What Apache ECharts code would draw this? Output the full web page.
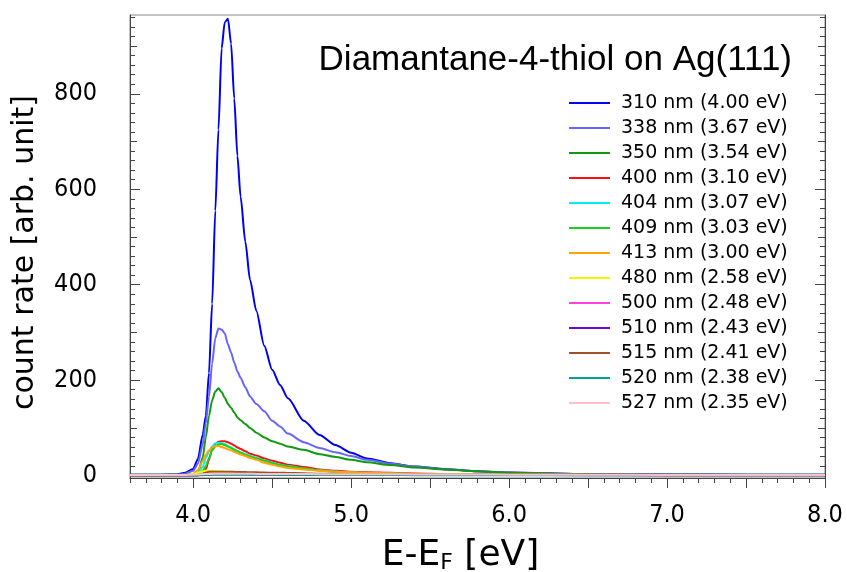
<!DOCTYPE html>
<html><head><meta charset="utf-8">
<script src="https://cdn.jsdelivr.net/npm/echarts@6/dist/echarts.min.js"></script>
<style>html,body{margin:0;padding:0;background:#fff}#c{width:847px;height:572px}</style>
</head><body><div id="c"></div>
<script>
// Energy grid E-EF [eV]
const xs = [3.60,3.80,3.90,3.95, 4.00,4.03,4.06,4.08, 4.10,4.12,4.14,4.16,4.18, 4.20,4.22,4.24,4.26,4.28, 4.30,4.33,4.36,4.40, 4.45,4.50,4.55,4.60, 4.70,4.80,4.90,5.00, 5.10,5.25,5.40,5.60, 5.80,6.00,6.50,7.00, 7.50,8.00];
const s310 = [2,2,2.5,6, 14,35,85,125, 215,360,555,725,895, 950,957,905,790,670, 585,490,410,345, 272,222,190,162, 115,85,64,48, 36,26,19,13.5, 9,6.5,3,2.5, 2,2];
const s338 = [2,2,2,4, 10,25,65,110, 165,235,288,308,306, 298,275,258,237,218, 205,185,166,150, 135,115,103,88, 70,58,49,41, 33,25,19,13, 9,6,3,2.5, 2,2];
const s350 = [2,2,2,2, 3,4,38,80, 125,158,176,183,175, 163,150,142,132,122, 116,108,100,90, 80,72,67,61, 54,45,39,33, 28,22,17,13, 9,6,3,2, 2,2];
const s400 = [1,1,1,1, 1,1,3,14, 33,55,66,71,72, 72,70,67,63,59, 56,51,46,42, 36,31,27,23, 18,13,10,8, 7,6,4.5,3.5, 3,2.5,2,1.5, 1.5,1.5];
const s404 = [1,1,1,1, 2,6,18,38, 50,61,68,69,68, 66,62,59,55,52, 49,45,41,37, 32,27,23,20, 15,11,8.5,7, 5.5,4.5,3.5,3, 2.5,2,1.5,1.5, 1.5,1.5];
const s409 = [1,1,1,1, 1,3,10,20, 37,53,61,65,66, 64,61,58,54,51, 48,44,40,36, 31,26,22,19, 15,11,8,6.5, 5.5,4.5,3.5,3, 2.5,2,1.5,1.5, 1.5,1.5];
const s413 = [1,1,1,1, 4,12,30,44, 53,59,62,62,60, 58,55,53,50,47, 44,41,37,33, 27,23,19,16, 13,10,8,7, 6,5,4,3, 2.5,2,1.5,1.5, 1.5,1.5];
const s480 = [1,1,1,1, 3,6,9,10, 10,10,9.5,9,9, 8.5,8,8,7.5,7.5, 7,6.5,6,6, 5.5,5,4.5,4, 3.5,3,3,2.5, 2.5,2,2,2, 1.5,1.5,1.5,1, 1,1];
const s500 = [1,1,1,1, 1,1.5,2.5,3, 3.5,3.5,3.5,3.5,3.5, 3.5,3.5,3.5,3.5,3.5, 3.5,3.5,3,3, 3,3,3,3, 2.5,2.5,2.5,2, 2,2,2,1.5, 1.5,1.5,1.5,1, 1,1];
const s510 = [1,1,1,1, 1,1,1.5,2, 2.5,2.5,3,3,3, 3,3,3,3,3, 3,3,2.5,2.5, 2.5,2.5,2.5,2.5, 2,2,2,2, 2,1.5,1.5,1.5, 1.5,1.5,1,1, 1,1];
const s515 = [1,1,1,1, 1,1,3,6, 8,8,8,8,8, 8,8,8,8,7.5, 7.5,7.5,7,7, 6.5,6,6,5.5, 5,4,3.5,3, 3,2.5,2.5,2, 2,2,1.5,1, 1,1];
const s520 = [1,1,1,1, 1,1,1,1.5, 1.5,2,2,2,2, 2,2,2,2,2, 2,2,2,2, 2,2,1.5,1.5, 1.5,1.5,1.5,1.5, 1.5,1.5,1,1, 1,1,1,1, 1,1];
const s527 = [1.5,1.5,1.5,1.5, 2,2.5,3,3.5, 3.5,3.5,4,4,4, 4,4,4,4,4, 4,4,4,3.5, 3.5,3.5,3.5,3.5, 3.5,3,3,3, 3,3,2.5,2.5, 2.5,2,2,1.5, 1.5,1.5];

const seriesNames = ['310 nm (4.00 eV)','338 nm (3.67 eV)','350 nm (3.54 eV)','400 nm (3.10 eV)','404 nm (3.07 eV)','409 nm (3.03 eV)','413 nm (3.00 eV)','480 nm (2.58 eV)','500 nm (2.48 eV)','510 nm (2.43 eV)','515 nm (2.41 eV)','520 nm (2.38 eV)','527 nm (2.35 eV)'];
const seriesValues = [s310,s338,s350,s400,s404,s409,s413,s480,s500,s510,s515,s520,s527];
const seriesColors = ['#0000f0','#6666ff','#109a10','#ff1010','#00f0f0','#22cc22','#ffa500','#f5f500','#ff40e0','#6a0acc','#a0522d','#00a0a0','#ffc0cb'];

const xLabels = [4,5,6,7,8];
const xMajorTicks = [4,4.5,5,5.5,6,6.5,7,7.5,8];
const yLabels = [0,200,400,600,800];
const yMinorTicks = [0,20,40,60,80,100,120,140,160,180,200,220,240,260,280,300,320,340,360,380,400,420,440,460,480,500,520,540,560,580,600,620,640,660,680,700,720,740,760,780,800,820,840,860,880,900,920,940,960];
const yMidTicks = [0,100,200,300,400,500,600,700,800,900];
const yMajorTicks = [0,200,400,600,800];

const TICKFONT = "'DejaVu Sans Condensed',sans-serif";
const axisColor = '#444';
const yMin = -5, yMax = 965;

function yAx(pos, ticks, len, showLine, labels) {
  return {
    type:'value', min:yMin, max:yMax, position:pos,
    axisLine:{show:showLine, lineStyle:{color:axisColor, width:1}},
    axisTick:{show:true, inside:true, length:len, customValues:ticks, lineStyle:{color:axisColor}},
    axisLabel: labels ? {show:true, customValues:labels, margin:33, fontSize:25, fontFamily:TICKFONT, color:'#000'} : {show:false},
    splitLine:{show:false}
  };
}

const yAxes = [
  Object.assign(yAx('left', yMinorTicks, 5, true, yLabels), {
    name:'count rate [arb. unit]', nameLocation:'middle', nameGap:90,
    nameTextStyle:{fontSize:30, fontFamily:'DejaVu Sans', color:'#000', padding:[0,12,0,0]}
  }),
  yAx('left', yMidTicks, 7, false, null),
  yAx('left', yMajorTicks, 10, false, null),
  yAx('right', yMinorTicks, 5, true, null),
  yAx('right', yMidTicks, 7, false, null),
  yAx('right', yMajorTicks, 10, false, null)
];

const chart = echarts.init(document.getElementById('c'), null, {renderer:'canvas'});
chart.setOption({
  animation:false,
  backgroundColor:'#fff',
  grid:{left:130, right:22, top:15, bottom:94, show:true, borderColor:'#888', borderWidth:1,
    backgroundColor:'transparent', containLabel:false, outerBoundsMode:'none'},
  title:{text:'Diamantane-4-thiol on Ag(111)', right:50, top:38,
    textStyle:{fontSize:35, fontWeight:'normal', fontFamily:'Liberation Sans', color:'#000'}},
  legend:{orient:'vertical', left:569, top:93, padding:0, itemWidth:41, itemHeight:2, itemGap:5, icon:'rect',
    data:seriesNames,
    textStyle:{fontSize:19, lineHeight:20, fontFamily:'DejaVu Sans', color:'#000', padding:[0,0,0,6]}},
  xAxis:[{
    type:'value', min:3.6, max:8.0, interval:0.1, position:'bottom',
    axisLine:{show:true, onZero:false, lineStyle:{color:axisColor}},
    axisTick:{show:true, inside:false, length:5, lineStyle:{color:axisColor}},
    axisLabel:{show:true, customValues:xLabels, formatter:v=>Number(v).toFixed(1), margin:25, fontSize:25, fontFamily:TICKFONT, color:'#000'},
    splitLine:{show:false},
    name:'E-E{sub|F} [eV]', nameLocation:'middle', nameGap:59,
    nameTextStyle:{fontSize:36, fontFamily:'DejaVu Sans', color:'#000', padding:[0,34,0,0],
      rich:{sub:{fontSize:22, fontFamily:'DejaVu Sans', color:'#000', verticalAlign:'bottom', padding:[15,0,0,0]}}}
  },{
    type:'value', min:3.6, max:8.0, position:'bottom',
    axisLine:{show:false, onZero:false},
    axisTick:{show:true, inside:false, length:10, customValues:xMajorTicks, lineStyle:{color:axisColor}},
    axisLabel:{show:false}, splitLine:{show:false}
  }],
  yAxis:yAxes,
  series: seriesNames.map((n,i)=>({
    name:n, type:'line', xAxisIndex:0, yAxisIndex:0, symbol:'none', smooth:0.25, smoothMonotone:'x',
    lineStyle:{width:2, color:seriesColors[i]}, itemStyle:{color:seriesColors[i]},
    data: xs.map((x,j)=>[x, seriesValues[i][j]])
  }))
});
</script></body></html>
